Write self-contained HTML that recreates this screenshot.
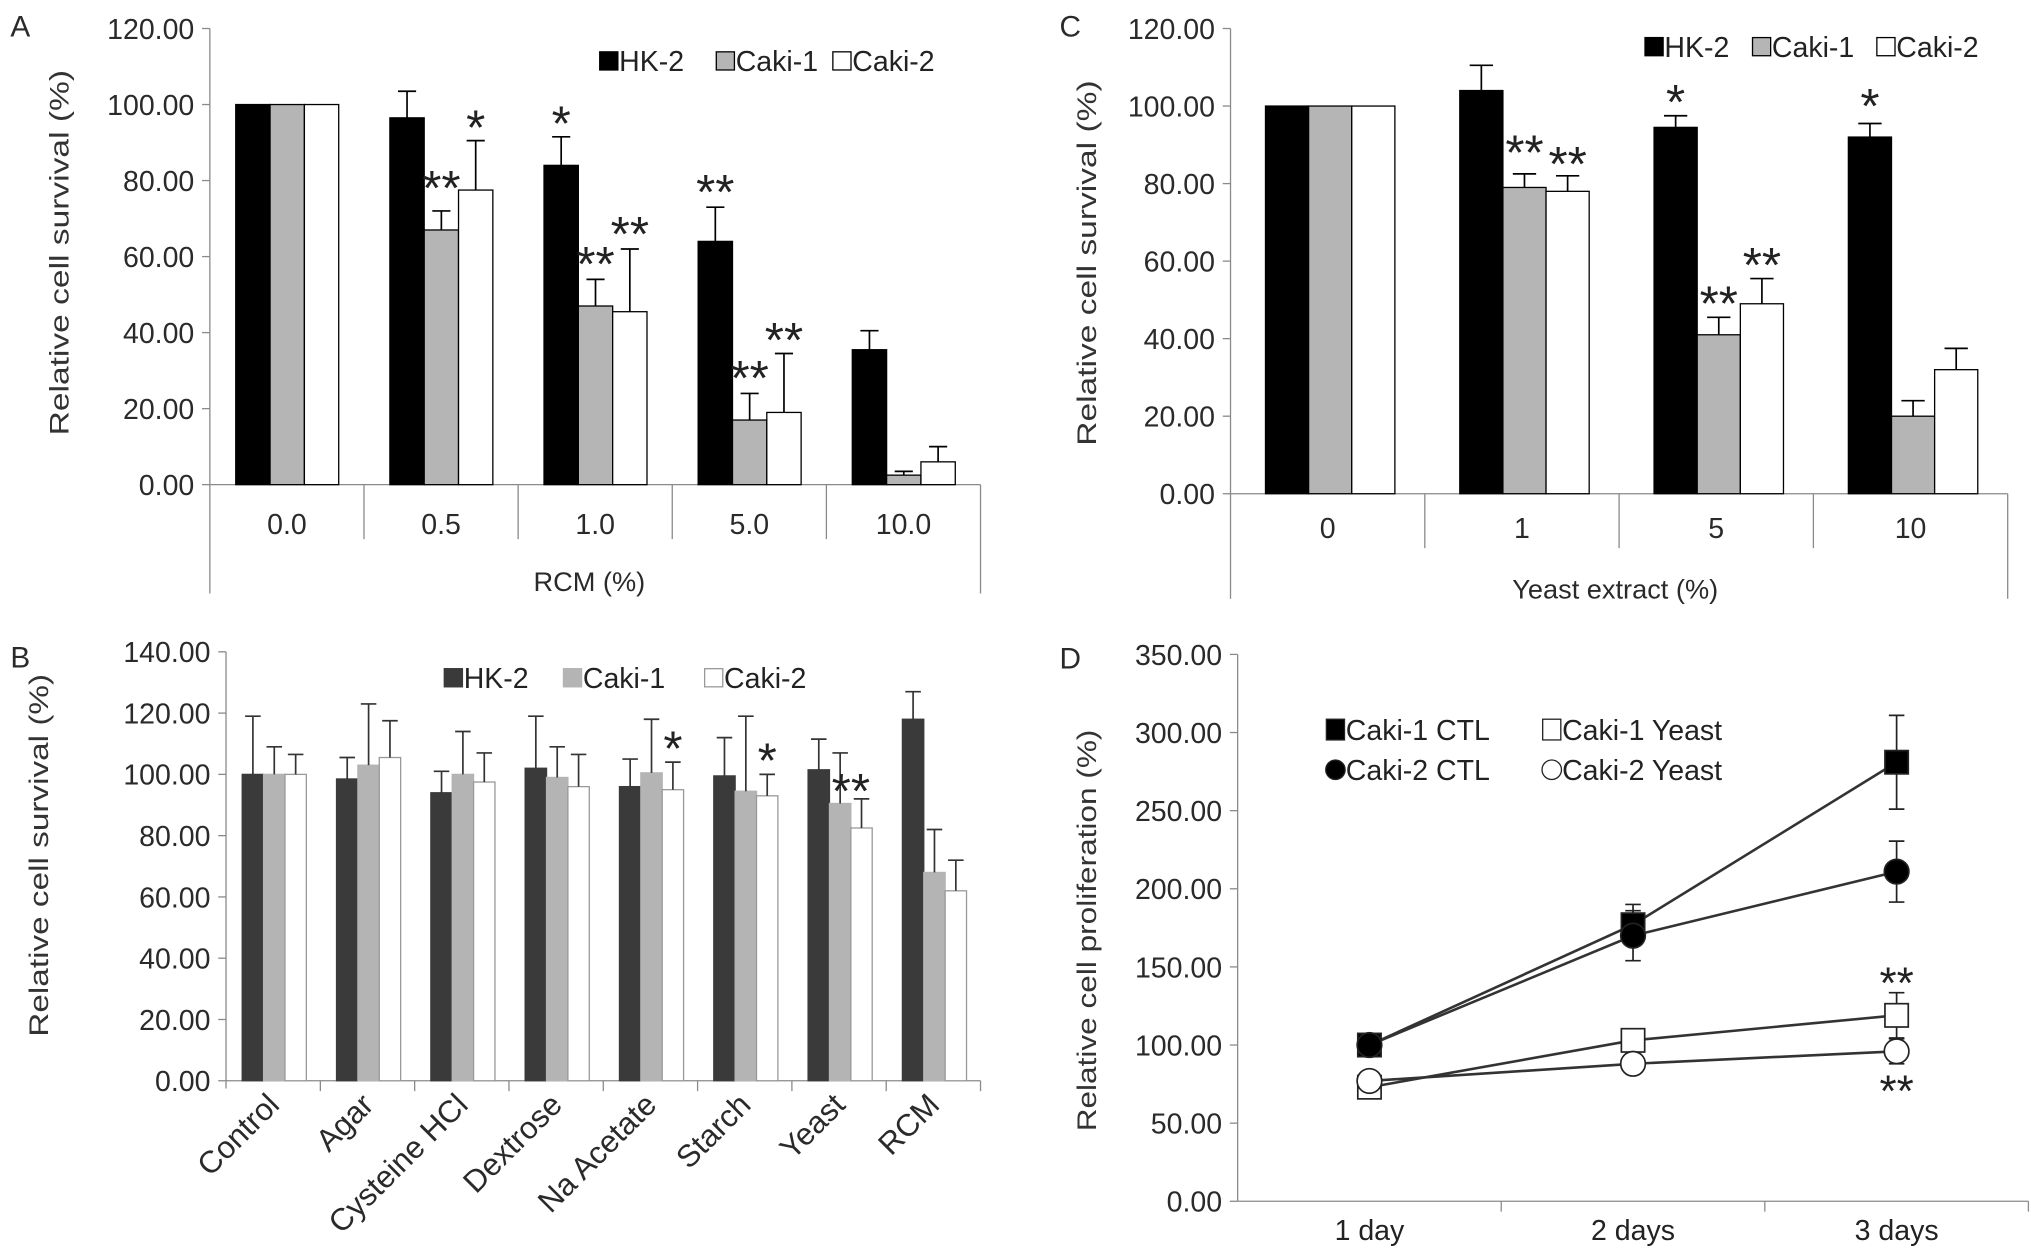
<!DOCTYPE html>
<html><head><meta charset="utf-8"><style>
html,body{margin:0;padding:0;background:#fff;}
svg{display:block;font-family:"Liberation Sans",Arial,sans-serif;}
</style></head><body>
<svg id="fig" width="2031" height="1257" viewBox="0 0 1568 970" preserveAspectRatio="none" xmlns="http://www.w3.org/2000/svg"></svg>
<script>
// ---------- Panel A data ----------
const A_cats = ['0.0','0.5','1.0','5.0','10.0'];
const A_hk2 = [100,96.5,84,64,35.5];
const A_caki1 = [100,67,47,17,2.5];
const A_caki2 = [100,77.5,45.5,19,6];
const A_hk2Err = [0,7,7.5,9,5];
const A_caki1Err = [0,5,7,7,1];
const A_caki2Err = [0,13,16.5,15.5,4];
const A_ticks = ['0.00','20.00','40.00','60.00','80.00','100.00','120.00'];
const A_stars = [[1,1,80,'**'],[1,2,96,'*'],[2,0,97,'*'],[2,1,60,'**'],[2,2,68,'**'],[3,0,79,'**'],[3,1,30,'**'],[3,2,40,'**']];
// ---------- Panel C data ----------
const C_cats = ['0','1','5','10'];
const C_hk2 = [100,104,94.5,92];
const C_caki1 = [100,79,41,20];
const C_caki2 = [100,78,49,32];
const C_hk2Err = [0,6.5,3,3.5];
const C_caki1Err = [0,3.5,4.5,4];
const C_caki2Err = [0,4,6.5,5.5];
const C_ticks = ['0.00','20.00','40.00','60.00','80.00','100.00','120.00'];
const C_stars = [[1,1,90,'**'],[1,2,87,'**'],[2,0,103,'*'],[2,1,51,'**'],[2,2,61,'**'],[3,0,102,'*']];
// ---------- Panel B data ----------
const B_cats = ['Control','Agar','Cysteine HCl','Dextrose','Na Acetate','Starch','Yeast','RCM'];
const B_hk2 = [100,98.5,94,102,96,99.5,101.5,118];
const B_caki1 = [100,103,100,99,100.5,94.5,90.5,68];
const B_caki2 = [100,105.5,97.5,96,95,93,82.5,62];
const B_hk2Err = [19,7,7,17,9,12.5,10,9];
const B_caki1Err = [9,20,14,10,17.5,24.5,16.5,14];
const B_caki2Err = [6.5,12,9.5,10.5,9,7,9.5,10];
const B_ticks = ['0.00','20.00','40.00','60.00','80.00','100.00','120.00','140.00'];
const B_stars = [[4,2,111,'*'],[5,2,107,'*'],[6,1.5,97,'**']];
// ---------- Panel D data ----------
const D_cats = ['1 day','2 days','3 days'];
const D_caki1Ctl = [100,177,281];
const D_caki2Ctl = [100,170,211];
const D_caki1Yeast = [73,103,119];
const D_caki2Yeast = [77,88,96];
const D_caki1CtlErr = [0,13,30];
const D_caki2CtlErr = [0,16,19.5];
const D_caki1YeastErr = [0,0,14.5];
const D_caki2YeastErr = [0,0,8];
const D_ticks = ['0.00','50.00','100.00','150.00','200.00','250.00','300.00','350.00'];
const D_stars = [[2,145,'**'],[2,76,'**']];

const NS='http://www.w3.org/2000/svg';
const svg=document.getElementById('fig');
function mk(tag,attrs,parent,text){const e=document.createElementNS(NS,tag);for(const k in attrs)e.setAttribute(k,attrs[k]);if(text!==undefined)e.textContent=text;(parent||svg).appendChild(e);return e;}
const AX='#8a8a8a', TXT='#2a2a2a';

function barPanel(g,p,cats,series,errs,colors,ticks,stars,max,errColor){
  const yS=v=>p.y0-v*(p.y0-p.yTop)/max;
  const gw=(p.xR-p.x0)/cats.length;
  const ya=mk('line',{x1:p.x0,y1:p.yTop,x2:p.x0,y2:p.yAxisBottom,stroke:AX,'stroke-width':1},g);
  
  
  ticks.forEach((t,i)=>{
    const v=max*i/(ticks.length-1);
    const tk=mk('line',{x1:p.x0-6,y1:yS(v),x2:p.x0,y2:yS(v),stroke:AX},g);
    
    
    const tl=mk('text',{x:p.x0-12,y:yS(v)+8,'text-anchor':'end','font-size':22,fill:TXT},g,t);
    
    
  });
  const xa=mk('line',{x1:p.x0,y1:p.y0,x2:p.xR,y2:p.y0,stroke:AX},g);
  
  
  for(let i=1;i<=cats.length;i++){
    const d=mk('line',{x1:p.x0+i*gw,y1:p.y0,x2:p.x0+i*gw,y2:(i===cats.length&&p.boxBottom)?p.boxBottom:p.y0+p.divLen,stroke:AX},g);
    
    
  }
  cats.forEach((c,i)=>{
    series.forEach((s,j)=>{
      const x=p.x0+i*gw+p.off+j*p.bw;
      const r=mk('rect',{x:x,y:yS(s[i]),width:p.bw,height:p.y0-yS(s[i]),fill:colors[j],stroke:p.barStroke[j],'stroke-width':1},g);
      
      
      if(errs[j][i]>0){
        const cx=x+p.bw/2, top=yS(s[i]+errs[j][i]);
        const el=mk('path',{d:`M${cx},${yS(s[i])}V${top}M${cx-p.cap},${top}H${cx+p.cap}`,stroke:errColor,'stroke-width':1.3,fill:'none'},g);
        
        
      }
    });
    if(p.rotLabels){
      const cx=p.x0+i*gw+gw/2+6, cy=p.y0+20;
      const t=mk('text',{x:cx,y:cy,'text-anchor':'end','font-size':24,fill:TXT,transform:`rotate(-45 ${cx} ${cy})`},g,c);
      
      
    } else {
      const t=mk('text',{x:p.x0+i*gw+gw/2,y:p.labY,'text-anchor':'middle','font-size':22,fill:TXT},g,c);
      
      
    }
  });
  stars.forEach(s=>{
    const x=p.x0+s[0]*gw+p.off+s[1]*p.bw+p.bw/2;
    const t=mk('text',{x:x,y:yS(s[2])+19,'text-anchor':'middle','font-size':38,fill:'#222'},g,s[3]);
    
    
  });
  return yS;
}

function legend(g,items,y,size,fs){
  items.forEach(it=>{
    const r=mk('rect',{x:it[0],y:y-size/2,width:size,height:size,fill:it[2],stroke:it[3],'stroke-width':1},g);
    
    
    const t=mk('text',{x:it[0]+size+1,y:y+fs*0.36,'font-size':fs,fill:'#222'},g,it[1]);
    
    
  });
}
function ylabel(g,x,y,txt,len){
  const t=mk('text',{x:x,y:y,'text-anchor':'middle','font-size':21,fill:'#333',transform:`rotate(-90 ${x} ${y})`,textLength:len,lengthAdjust:'spacingAndGlyphs'},g,txt);
  
  
}
function plabel(g,x,y,t){const e=mk('text',{x:x,y:y,'font-size':23,fill:TXT},g,t);}

// ---- Panel A ----
const gA=mk('g',{});
barPanel(gA,{x0:162,xR:757,y0:374,yTop:22,yAxisBottom:458,boxBottom:458,divLen:42,off:20,bw:26.5,cap:7,labY:412,barStroke:['#000','#000','#000']},
  A_cats,[A_hk2,A_caki1,A_caki2],[A_hk2Err,A_caki1Err,A_caki2Err],['#000','#b5b5b5','#fff'],A_ticks,A_stars,120,'#000');
plabel(gA,8,28,'A');
ylabel(gA,53,195,'Relative cell survival (%)',282);
{const t=mk('text',{x:455,y:456,'text-anchor':'middle','font-size':21,fill:TXT},gA,'RCM (%)');}
legend(gA,[[463,'HK-2','#000','#000'],[553,'Caki-1','#b5b5b5','#000'],[643,'Caki-2','#fff','#000']],47,14,22);

// ---- Panel C ----
const gC=mk('g',{});
barPanel(gC,{x0:950,xR:1550,y0:381,yTop:22,yAxisBottom:462,boxBottom:462,divLen:42,off:27,bw:33.3,cap:9,labY:415,barStroke:['#000','#000','#000']},
  C_cats,[C_hk2,C_caki1,C_caki2],[C_hk2Err,C_caki1Err,C_caki2Err],['#000','#b5b5b5','#fff'],C_ticks,C_stars,120,'#000');
plabel(gC,818,28,'C');
ylabel(gC,846,203,'Relative cell survival (%)',282);
{const t=mk('text',{x:1247,y:462,'text-anchor':'middle','font-size':21,fill:TXT},gC,'Yeast extract (%)');}
legend(gC,[[1270,'HK-2','#000','#000'],[1353,'Caki-1','#b5b5b5','#000'],[1449,'Caki-2','#fff','#000']],36,14,22);

// ---- Panel B ----
const gB=mk('g',{});
barPanel(gB,{x0:174.5,xR:757,y0:834,yTop:503,yAxisBottom:840,divLen:8,off:12.5,bw:16.5,cap:6,rotLabels:true,barStroke:['#3a3a3a','#b4b4b4','#999']},
  B_cats,[B_hk2,B_caki1,B_caki2],[B_hk2Err,B_caki1Err,B_caki2Err],['#3a3a3a','#b4b4b4','#fff'],B_ticks,B_stars,140,'#333');
plabel(gB,8,515,'B');
ylabel(gB,37,660,'Relative cell survival (%)',280);
legend(gB,[[343,'HK-2','#3a3a3a','#3a3a3a'],[435,'Caki-1','#b4b4b4','#b4b4b4'],[544,'Caki-2','#fff','#999']],523,14,22);

// ---- Panel D ----
const gD=mk('g',{});
{
  const p={x0:955.5,xR:1566,y0:927,yTop:505};
  const max=350;
  const yS=v=>p.y0-v*(p.y0-p.yTop)/max;
  const gw=(p.xR-p.x0)/D_cats.length;
  const xS=i=>p.x0+gw*i+gw/2;
  const ya=mk('line',{x1:p.x0,y1:p.yTop,x2:p.x0,y2:p.y0,stroke:AX},gD);
  
  D_ticks.forEach((t,i)=>{
    const v=max*i/(D_ticks.length-1);
    const tk=mk('line',{x1:p.x0-6,y1:yS(v),x2:p.x0,y2:yS(v),stroke:AX},gD);
    
    const tl=mk('text',{x:p.x0-12,y:yS(v)+8,'text-anchor':'end','font-size':22,fill:TXT},gD,t);
    
  });
  const xa=mk('line',{x1:p.x0,y1:p.y0,x2:p.xR,y2:p.y0,stroke:AX},gD);
  
  for(let i=1;i<=D_cats.length;i++){
    const d=mk('line',{x1:p.x0+i*gw,y1:p.y0,x2:p.x0+i*gw,y2:p.y0+8,stroke:AX},gD);
    
  }
  D_cats.forEach((c,i)=>{
    const t=mk('text',{x:xS(i),y:p.y0+30,'text-anchor':'middle','font-size':22,fill:'#222'},gD,c);
    
  });
  const series=[[D_caki1Ctl,D_caki1CtlErr,'sq','#000','caki-1-ctl'],[D_caki2Ctl,D_caki2CtlErr,'ci','#000','caki-2-ctl'],[D_caki1Yeast,D_caki1YeastErr,'sq','#fff','caki-1-yeast'],[D_caki2Yeast,D_caki2YeastErr,'ci','#fff','caki-2-yeast']];
  series.forEach(s=>{
    s[0].forEach((v,i)=>{
      if(s[1][i]>0){
        const e=mk('path',{d:`M${xS(i)},${yS(v-s[1][i])}V${yS(v+s[1][i])}M${xS(i)-6},${yS(v-s[1][i])}H${xS(i)+6}M${xS(i)-6},${yS(v+s[1][i])}H${xS(i)+6}`,stroke:'#222','stroke-width':1.3,fill:'none'},gD);
        
      }
    });
    const ln=mk('polyline',{points:s[0].map((v,i)=>xS(i)+','+yS(v)).join(' '),fill:'none',stroke:'#333','stroke-width':2},gD);
    
  });
  series.forEach(s=>{
    s[0].forEach((v,i)=>{
      let m;
      if(s[2]==='sq') m=mk('rect',{x:xS(i)-9,y:yS(v)-9,width:18,height:18,fill:s[3],stroke:'#222','stroke-width':1.3},gD);
      else m=mk('circle',{cx:xS(i),cy:yS(v),r:9.5,fill:s[3],stroke:'#222','stroke-width':1.3},gD);
      
    });
  });
  D_stars.forEach(s=>{
    const t=mk('text',{x:xS(s[0]),y:yS(s[1])+18,'text-anchor':'middle','font-size':34,fill:'#222'},gD,s[2]);
    
  });
  const li=[[1031,563,'sq','#000','Caki-1 CTL'],[1198,563,'sq','#fff','Caki-1 Yeast'],[1031,594,'ci','#000','Caki-2 CTL'],[1198,594,'ci','#fff','Caki-2 Yeast']];
  li.forEach(l=>{
    let m;
    if(l[2]==='sq') m=mk('rect',{x:l[0]-7,y:l[1]-8,width:14,height:16,fill:l[3],stroke:'#222','stroke-width':1},gD);
    else m=mk('circle',{cx:l[0],cy:l[1],r:7.5,fill:l[3],stroke:'#222','stroke-width':1},gD);
    
    const t=mk('text',{x:l[0]+8,y:l[1]+8,'font-size':22,fill:'#222'},gD,l[4]);
    
  });
}
plabel(gD,818,516,'D');
ylabel(gD,846,718,'Relative cell proliferation (%)',310);
</script>
</body></html>
